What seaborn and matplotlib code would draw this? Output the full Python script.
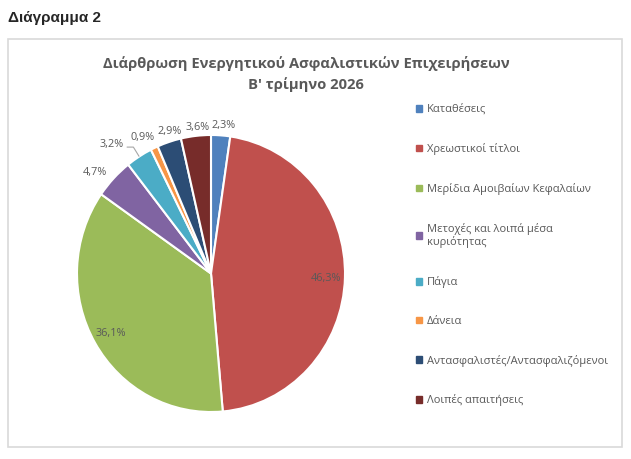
import numpy as np
import matplotlib
matplotlib.use("Agg")
import matplotlib.pyplot as plt
import matplotlib.patches as mpatches
import seaborn as sns

sns.set_theme(style="white")
plt.rcParams['font.family'] = ['Open Sans', 'DejaVu Sans']

# ---------------- data ----------------
categories = [
    "Καταθέσεις",
    "Χρεωστικοί τίτλοι",
    "Μερίδια Αμοιβαίων Κεφαλαίων",
    "Μετοχές και λοιπά μέσα\nκυριότητας",
    "Πάγια",
    "Δάνεια",
    "Αντασφαλιστές/Αντασφαλιζόμενοι",
    "Λοιπές απαιτήσεις",
]
shares = [2.3, 46.3, 36.1, 4.7, 3.2, 0.9, 2.9, 3.6]
colors = ["#4F81BD", "#C0504D", "#9BBB59", "#8064A2",
          "#4BACC6", "#F79646", "#2C4D75", "#772C2A"]

title = "Διάρθρωση Ενεργητικού Ασφαλιστικών Επιχειρήσεων\nB' τρίμηνο 2026"
text_grey = "#595959"

# label placement (radius, angular nudge in degrees) - layout only
label_r = [1.07, 0.86, 0.86, 1.13, 1.19, 1.11, 1.07, 1.06]
label_nudge = [-1.0, -1.0, 0.0, 3.4, 6.0, 2.4, -1.5, -1.0]

# ---------------- figure ----------------
fig = plt.figure(figsize=(6.31, 4.59), dpi=100)
W, H = 631, 459

# outer frame of the chart area
fig.patches.append(mpatches.Rectangle((8 / W, 1 - 447 / H), 614 / W, 408 / H,
                                      transform=fig.transFigure, fill=False,
                                      edgecolor="#D9D9D9", linewidth=1.2))
fig.text(8 / W, 1 - 18 / H, "Διάγραμμα 2", fontsize=11, fontweight="bold",
         family=['Liberation Sans', 'DejaVu Sans'], va="center", ha="left")
fig.text(306 / W, 1 - 74 / H, title, fontsize=10.6, fontweight="bold",
         color=text_grey, ha="center", va="center", linespacing=1.5)

# pie axes: centre (211, 273.5), radii 134 x 138.5 px
cx, cy, rx, ry = 211, 273.5, 134, 138.5
ax = fig.add_axes([(cx - rx) / W, 1 - (cy + ry) / H, 2 * rx / W, 2 * ry / H])
wedges, _ = ax.pie(shares, colors=colors, startangle=90, counterclock=False,
                   wedgeprops=dict(edgecolor="white", linewidth=1.5))
ax.set_xlim(-1, 1)
ax.set_ylim(-1, 1)
ax.set_aspect("auto")
ax.axis("off")

# data labels
for w, val, lr, nd in zip(wedges, shares, label_r, label_nudge):
    mid_deg = (w.theta1 + w.theta2) / 2
    mid = np.deg2rad(mid_deg + nd)
    x, y = lr * np.cos(mid), lr * np.sin(mid)
    txt = f"{val:.1f}%".replace(".", ",")
    ax.text(x, y, txt, fontsize=7.8, color=text_grey, ha="center", va="center")
    if val == 3.2:
        # leader line from the label to the slice edge
        ex, ey = np.cos(np.deg2rad(mid_deg)), np.sin(np.deg2rad(mid_deg))
        ax.plot([x + 0.11, x + 0.16, ex], [y - 0.02, y - 0.02, ey],
                color="#A6A6A6", lw=0.8, solid_capstyle="butt")

# legend
handles = [mpatches.Patch(color=c) for c in colors]
fig.legend(handles, categories, loc="upper left",
           bbox_to_anchor=(406 / W, 1 - 94 / H), frameon=False,
           fontsize=8, handlelength=0.55, handleheight=0.55,
           handletextpad=0.4, labelspacing=2.5, labelcolor=text_grey)

fig.savefig("out.png", dpi=100)
